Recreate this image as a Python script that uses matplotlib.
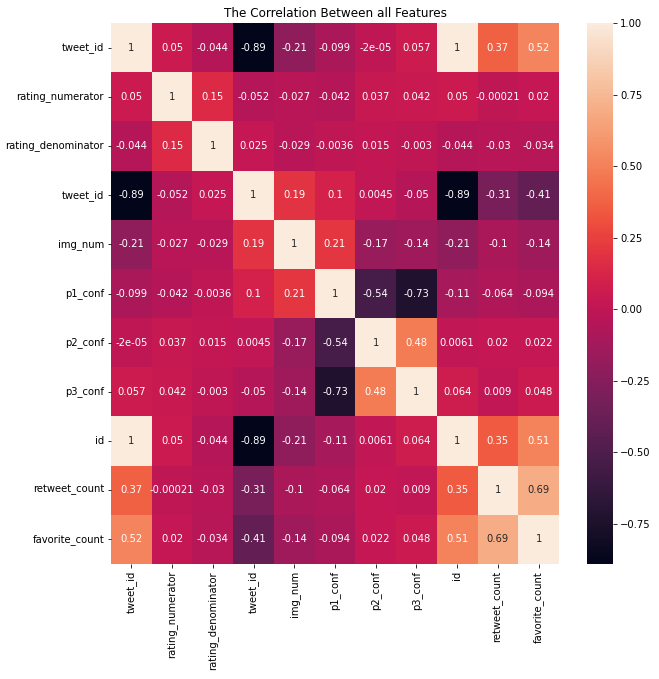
import matplotlib
matplotlib.use("Agg")
import matplotlib.pyplot as plt
import numpy as np
import pandas as pd
import seaborn as sns

labels = ['tweet_id', 'rating_numerator', 'rating_denominator', 'tweet_id',
          'img_num', 'p1_conf', 'p2_conf', 'p3_conf', 'id',
          'retweet_count', 'favorite_count']

# correlation values, row by row
r_tweet_id = [1, 0.05, -0.044, -0.89, -0.21, -0.099, -2e-05, 0.057, 1, 0.37, 0.52]
r_numerator = [0.05, 1, 0.15, -0.052, -0.027, -0.042, 0.037, 0.042, 0.05, -0.00021, 0.02]
r_denominator = [-0.044, 0.15, 1, 0.025, -0.029, -0.0036, 0.015, -0.003, -0.044, -0.03, -0.034]
r_tweet_id2 = [-0.89, -0.052, 0.025, 1, 0.19, 0.1, 0.0045, -0.05, -0.89, -0.31, -0.41]
r_img_num = [-0.21, -0.027, -0.029, 0.19, 1, 0.21, -0.17, -0.14, -0.21, -0.1, -0.14]
r_p1 = [-0.099, -0.042, -0.0036, 0.1, 0.21, 1, -0.54, -0.73, -0.11, -0.064, -0.094]
r_p2 = [-2e-05, 0.037, 0.015, 0.0045, -0.17, -0.54, 1, 0.48, 0.0061, 0.02, 0.022]
r_p3 = [0.057, 0.042, -0.003, -0.05, -0.14, -0.73, 0.48, 1, 0.064, 0.009, 0.048]
r_id = [1, 0.05, -0.044, -0.89, -0.21, -0.11, 0.0061, 0.064, 1, 0.35, 0.51]
r_retweet = [0.37, -0.00021, -0.03, -0.31, -0.1, -0.064, 0.02, 0.009, 0.35, 1, 0.69]
r_favorite = [0.52, 0.02, -0.034, -0.41, -0.14, -0.094, 0.022, 0.048, 0.51, 0.69, 1]

corr = np.array([r_tweet_id, r_numerator, r_denominator, r_tweet_id2, r_img_num,
                 r_p1, r_p2, r_p3, r_id, r_retweet, r_favorite])

fig = plt.figure(figsize=(659 / 72, 679 / 72), dpi=72)
ax = fig.add_axes([111 / 659, 1 - 564 / 679, 448 / 659, 541 / 679])
cax = fig.add_axes([587 / 659, 1 - 564 / 679, 26 / 659, 541 / 679])

sns.heatmap(corr, annot=True, ax=ax, cbar_ax=cax,
            xticklabels=labels, yticklabels=labels)
ax.set_title('The Correlation Between all Features')

fig.savefig('out.png', dpi=72)
